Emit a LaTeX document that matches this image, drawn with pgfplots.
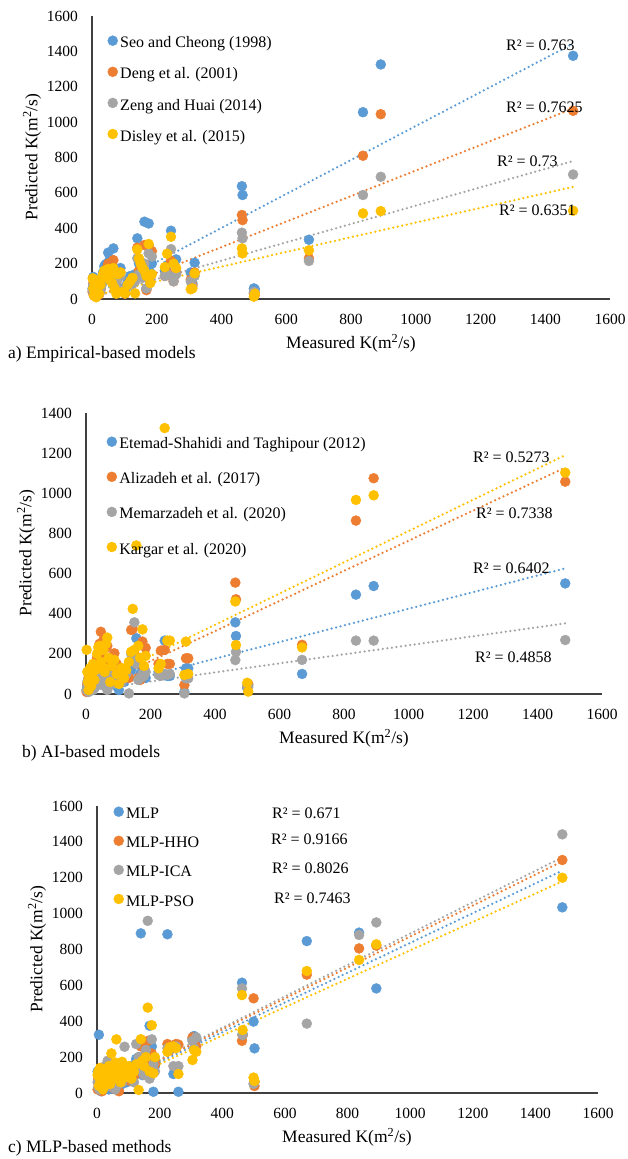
\documentclass[border=0pt]{standalone}
\usepackage{fontspec}
\setmainfont{Liberation Serif}
\usepackage{pgfplots}
\pgfplotsset{compat=1.18}
\usepackage{pgfplotstable}
\definecolor{cB}{HTML}{5B9BD5}
\definecolor{cO}{HTML}{ED7D31}
\definecolor{cG}{HTML}{A5A5A5}
\definecolor{cY}{HTML}{FFC000}

\pgfplotstableread{
m b o g y
2 60 40 50 117
4 125 90 80 60
6 30 20 25 20
8 80 60 55 90
10 45 30 35 40
13 20 15 20 10
16 55 40 45 70
19 90 70 60 100
22 35 25 30 30
26 70 55 50 80
30 110 90 80 120
34 150 120 100 140
38 185 150 120 160
42 195 160 130 150
46 200 175 140 130
50 262 200 160 170
54 220 185 150 110
58 190 160 130 150
62 140 110 100 90
66 286 220 170 175
70 170 140 120 60
75 120 95 90 30
80 168 140 120 140
88 175 150 130 150
95 60 45 50 40
102 40 30 35 32
110 95 75 70 80
118 130 100 90 100
125 110 90 85 120
133 140 110 100 32
140 343 290 230 280
145 200 160 140 230
150 180 150 130 200
156 170 140 120 175
162 437 305 200 160
168 60 50 60 130
175 427 300 258 311
180 150 120 110 90
185 200 270 240 140
225 160 130 130 180
232 190 150 140 256
244 386 216 282 352
252 120 100 100 200
260 224 150 140 175
305 150 110 100 55
310 90 79 70 60
317 205 150 130 145
463 638 475 375 286
465 588 446 343 258
500 60 30 40 13
503 55 23 35 30
670 335 230 215 275
837 1056 810 588 484
892 1326 1045 691 497
1486 1375 1064 704 499
}\tabA

\pgfplotstableread{
m b o g y
2 20 10 20 220
4 40 50 60 110
6 60 30 40 60
8 30 80 10 20
10 50 20 70 90
13 25 60 30 130
16 70 100 50 40
19 45 40 80 100
22 80 120 20 150
26 30 70 60 70
30 60 150 40 120
34 90 180 90 200
38 110 200 70 233
42 70 250 100 240
46 130 310 50 160
50 100 190 80 140
54 150 269 110 220
58 80 150 40 110
62 60 230 60 250
66 160 240 20 281
70 120 100 90 180
75 90 60 70 60
80 50 130 50 140
88 70 203 100 170
95 40 150 120 100
102 20 90 80 50
110 90 60 60 130
118 60 120 90 80
125 80 100 100 120
133 100 80 3 160
140 120 319 200 210
145 180 324 180 424
150 200 200 357 220
156 278 150 150 740
162 150 80 70 240
168 100 70 80 180
175 120 261 100 322
180 90 130 90 140
185 80 230 110 190
225 110 150 95 128
232 100 216 90 150
244 266 220 100 1325
252 90 150 95 266
260 90 150 100 266
305 10 45 3 95
310 128 178 78 261
317 128 178 78 100
463 357 555 169 461
465 289 472 210 244
500 30 40 40 56
503 45 50 35 12
670 100 245 170 232
837 495 864 266 967
892 538 1075 266 990
1486 551 1058 269 1103
}\tabB

\pgfplotstableread{
m b o g y
2 120 20 60 100
4 60 80 30 120
6 325 50 100 40
8 30 110 20 80
10 90 30 70 140
13 10 70 50 60
16 50 10 120 100
19 80 60 30 20
22 40 100 80 130
26 100 40 150 70
30 60 90 60 110
34 130 120 180 90
38 20 60 40 150
42 150 80 120 50
46 80 140 90 221
50 110 30 60 120
54 60 110 110 80
58 40 70 20 170
62 90 130 80 299
66 140 90 130 100
70 30 10 50 140
75 70 80 100 60
80 50 60 60 174
88 100 150 258 120
95 60 100 120 90
102 80 70 90 150
110 150 130 140 80
118 120 90 60 118
125 190 150 273 160
133 200 170 200 17
140 890 260 130 300
145 100 160 180 180
150 180 200 100 150
156 130 220 240 200
162 250 290 960 476
168 375 180 80 120
175 260 220 299 378
180 7 140 160 110
185 150 160 120 200
225 885 273 250 230
232 250 260 240 255
244 106 250 150 260
252 270 273 260 250
260 7 270 150 106
305 300 310 290 184
310 318 300 250 239
317 300 260 310 230
463 615 291 583 546
465 330 320 323 351
500 398 528 51 86
503 249 39 60 67
670 847 660 387 680
837 894 806 881 742
892 583 822 951 829
1486 1035 1299 1442 1200
}\tabC

\pgfplotsset{
  myaxis/.style={
    scale only axis, anchor=south west,
    xmin=0, xmax=1600, ymin=0,
    axis x line*=bottom, axis y line*=left,
    axis line style={black!75, line width=1.1pt},
    major tick length=0pt,
    xtick={0,200,...,1600},
    ticklabel style={font=\fontsize{15.5}{18}\selectfont},
    /pgf/number format/assume math mode=true,
    /pgf/number format/1000 sep={},
    xticklabel style={anchor=center, yshift=-20pt},
    yticklabel style={anchor=east, inner sep=0pt, xshift=-14pt},
    clip=false,
    legend cell align=left,
    legend style={draw=none, fill=none, inner sep=0pt, anchor=north west,
      font=\fontsize{16}{19}\selectfont,
      nodes={inner sep=0pt, text height=11pt, text depth=4pt},
      column sep=2.5pt},
    legend image code/.code={\draw[mark repeat=2,mark phase=2,##1] plot coordinates {(-5pt,3.6pt) (0pt,3.6pt) (5pt,3.6pt)};},
  },
  sc/.style={only marks, mark=*, mark size=5pt, color=#1, mark options={draw=#1, fill=#1}},
  tl/.style={color=#1, line width=2.5pt, line cap=round, dash pattern=on 0pt off 4.6pt, forget plot, mark=none},
}

\newcommand{\lab}{\fontsize{17.5}{20}\selectfont}
\newcommand{\rl}{\fontsize{16}{19}\selectfont}

\begin{document}
\begin{tikzpicture}
\useasboundingbox (0,0) rectangle (628pt,-1159pt);

% ---------- panel a ----------
\begin{axis}[myaxis, at={(92pt,-299pt)}, width=518pt, height=283pt, ymax=1600,
  ytick={0,200,...,1600},
  legend style={at={(0.0300,0.9311)}, row sep=15pt}]
\addplot[sc=cB] table[x=m,y=b]{\tabA};
\addplot[sc=cO] table[x=m,y=o]{\tabA};
\addplot[sc=cG] table[x=m,y=g]{\tabA};
\addplot[sc=cY] table[x=m,y=y]{\tabA};
\legend{Seo and Cheong (1998),Deng et al. (2001),Zeng and Huai (2014),Disley et al. (2015)}
\addplot[tl=cB] coordinates {(2,20) (1486,1444)};
\addplot[tl=cO] coordinates {(2,6) (1486,1077)};
\addplot[tl=cG] coordinates {(2,10) (1486,780)};
\addplot[tl=cY] coordinates {(2,18) (1486,634)};
\end{axis}

% ---------- panel b ----------
\begin{axis}[myaxis, at={(86pt,-694pt)}, width=516pt, height=281pt, ymax=1400,
  ytick={0,200,...,1400},
  legend style={at={(0.0400,0.9164)}, row sep=19pt}]
\addplot[sc=cB] table[x=m,y=b]{\tabB};
\addplot[sc=cO] table[x=m,y=o]{\tabB};
\addplot[sc=cG] table[x=m,y=g]{\tabB};
\addplot[sc=cY] table[x=m,y=y]{\tabB};
\legend{Etemad-Shahidi and Taghipour (2012),Alizadeh et al. (2017),Memarzadeh et al. (2020),Kargar et al. (2020)}
\addplot[tl=cY] coordinates {(2,35) (1486,1190)};
\addplot[tl=cO] coordinates {(2,15) (1486,1128)};
\addplot[tl=cB] coordinates {(2,11) (1486,626)};
\addplot[tl=cG] coordinates {(2,18) (1486,352)};
\end{axis}

% ---------- panel c ----------
\begin{axis}[myaxis, at={(97pt,-1093pt)}, width=501pt, height=287pt, ymax=1600,
  ytick={0,200,...,1600},
  legend style={at={(0.0330,0.9983)}, row sep=13pt}]
\addplot[sc=cB] table[x=m,y=b]{\tabC};
\addplot[sc=cO] table[x=m,y=o]{\tabC};
\addplot[sc=cG] table[x=m,y=g]{\tabC};
\addplot[sc=cY] table[x=m,y=y]{\tabC};
\legend{MLP,MLP-HHO,MLP-ICA,MLP-PSO}
\addplot[tl=cG] coordinates {(2,15) (1486,1314)};
\addplot[tl=cO] coordinates {(2,10) (1486,1292)};
\addplot[tl=cB] coordinates {(2,8) (1486,1240)};
\addplot[tl=cY] coordinates {(2,5) (1486,1180)};
\end{axis}

% ---------- texts ----------
\begin{scope}[every node/.style={inner sep=0pt}]
\node[rotate=90,font=\lab] at (32pt,-157pt) {Predicted K(m\textsuperscript{2}/s)};
\node[rotate=90,font=\lab] at (26pt,-553pt) {Predicted K(m\textsuperscript{2}/s)};
\node[rotate=90,font=\lab] at (37pt,-949pt) {Predicted K(m\textsuperscript{2}/s)};
\node[font=\lab] at (351pt,-343pt) {Measured K(m\textsuperscript{2}/s)};
\node[font=\lab] at (344pt,-738pt) {Measured K(m\textsuperscript{2}/s)};
\node[font=\lab] at (347pt,-1137pt) {Measured K(m\textsuperscript{2}/s)};
\node[font=\lab, anchor=west] at (8pt,-354pt) {a) Empirical-based models};
\node[font=\lab, anchor=west] at (22pt,-753pt) {b) AI-based models};
\node[font=\lab, anchor=west] at (8pt,-1148pt) {c) MLP-based methods};
% R2 labels
\node[font=\rl, anchor=west] at (506pt,-45pt) {R² = 0.763};
\node[font=\rl, anchor=west] at (506pt,-107pt) {R² = 0.7625};
\node[font=\rl, anchor=west] at (497pt,-161pt) {R² = 0.73};
\node[font=\rl, anchor=west] at (499pt,-210pt) {R² = 0.6351};
\node[font=\rl, anchor=west] at (473pt,-457pt) {R² = 0.5273};
\node[font=\rl, anchor=west] at (476pt,-513pt) {R² = 0.7338};
\node[font=\rl, anchor=west] at (473pt,-568pt) {R² = 0.6402};
\node[font=\rl, anchor=west] at (475pt,-657pt) {R² = 0.4858};
\node[font=\rl, anchor=west] at (272pt,-813pt) {R² = 0.671};
\node[font=\rl, anchor=west] at (271pt,-839pt) {R² = 0.9166};
\node[font=\rl, anchor=west] at (272pt,-868pt) {R² = 0.8026};
\node[font=\rl, anchor=west] at (274pt,-898pt) {R² = 0.7463};
\end{scope}
\end{tikzpicture}
\end{document}
